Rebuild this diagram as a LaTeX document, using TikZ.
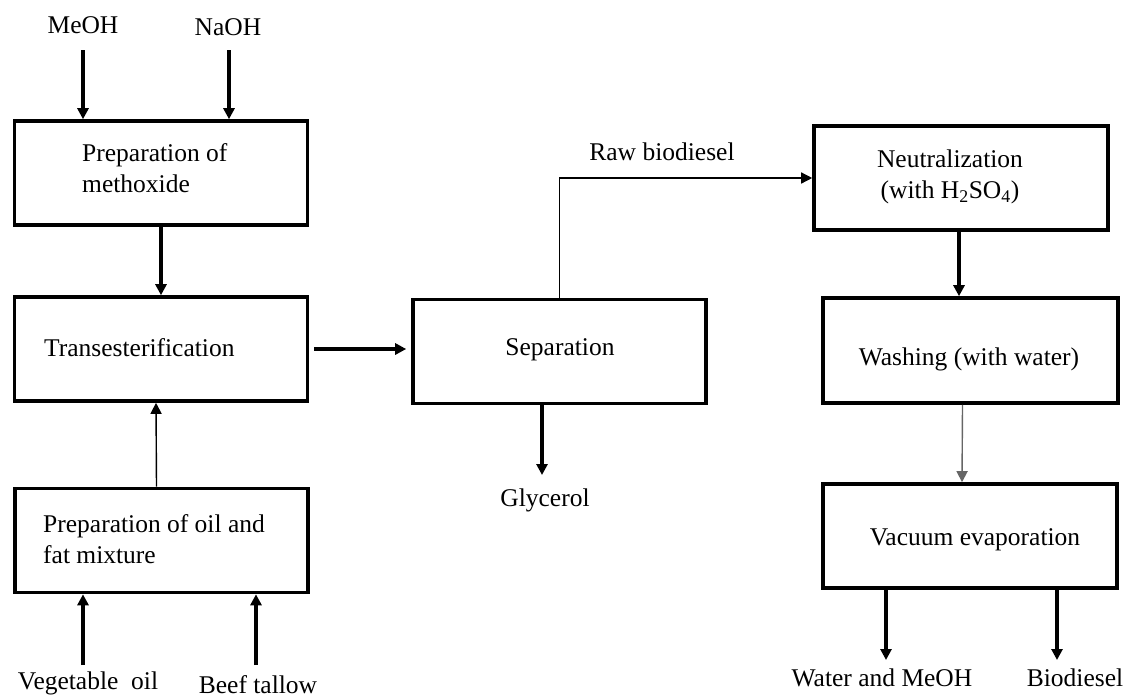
\documentclass[tikz,border=0pt]{standalone}
\usepackage{fontspec}
\setmainfont{Liberation Serif}
\usetikzlibrary{arrows.meta}
\begin{document}
\begin{tikzpicture}[x=1pt,y=-1pt,
  box/.style={draw, line width=3.6pt, inner sep=0pt, minimum width=293pt, minimum height=104pt},
  lbl/.style={font=\fontsize{25.5}{31}\selectfont, inner sep=0pt, align=left},
  clbl/.style={font=\fontsize{25.5}{31}\selectfont, inner sep=0pt, align=center},
  thickarr/.style={line width=3.2pt, -{Triangle[length=11pt,width=11pt]}},
  thinarr/.style={line width=1.4pt, -{Triangle[length=11pt,width=11pt]}},
]
\useasboundingbox (0,0) rectangle (1123,699);
% boxes
\node[box] (b1) at (161,173) {};
\node[box] (b2) at (161,349) {};
\node[box] (b3) at (161.5,540.5) {};
\node[box] (sep) at (559.5,351.5) {};
\node[box, minimum width=294pt] (neut) at (961,178) {};
\node[box, minimum width=295pt, minimum height=105pt] (wash) at (970.5,350.5) {};
\node[box, minimum width=294pt] (vac) at (970,536) {};
% box texts
\node[lbl, anchor=west] (t1) at (82,168) {Preparation of\\methoxide};
\node[lbl, anchor=west] (t2) at (44,348) {Transesterification};
\node[lbl, anchor=west] (t3) at (43,539) {Preparation of oil and\\fat mixture};
\node[clbl] (tsep) at (560,350) {Separation};
\node[clbl] (tneut) at (950,177) {Neutralization\\(with H\textsubscript{2}SO\textsubscript{4})};
\node[clbl] (twash) at (969,359) {Washing (with water)};
\node[clbl] (tvac) at (975,540) {Vacuum evaporation};
% free labels
\node[clbl] (meoh) at (83,25) {MeOH};
\node[clbl] (naoh) at (228,27) {NaOH};
\node[clbl] (veg) at (88,683) {Vegetable\ \ oil};
\node[clbl] (beef) at (258,685) {Beef tallow};
\node[clbl] (raw) at (662,152) {Raw biodiesel};
\node[clbl] (glyc) at (545,500) {Glycerol};
\node[clbl] (wm) at (882,678) {Water and MeOH};
\node[clbl] (bio) at (1075,678) {Biodiesel};
% free ends
\coordinate (cm) at (83,50);
\coordinate (cn) at (229,50);
\coordinate (cv) at (83,665);
\coordinate (cb) at (256,665);
\coordinate (cg) at (542,475);
\coordinate (cw) at (886,660);
\coordinate (cbd) at (1057,660);
% connectors
\draw[thickarr] (cm) -- (cm |- b1.north);
\draw[thickarr] (cn) -- (cn |- b1.north);
\draw[thickarr] (b1.south) -- (b2.north);
\draw[thinarr] ([xshift=-5pt]b3.north) -- ([xshift=-5pt]b2.south);
\draw[thickarr] (cv) -- (cv |- b3.south);
\draw[thickarr] (cb) -- (cb |- b3.south);
\draw[thickarr] ([xshift=5pt]b2.east) -- ([xshift=-5pt]b2.east -| sep.west);
\draw[thinarr] (sep.north) |- (neut.west);
\draw[thickarr] (cg |- sep.south) -- (cg);
\draw[thickarr] ([xshift=-2pt]neut.south) -- ([xshift=-2pt]neut.south |- wash.north);
\draw[thinarr, draw=black!60] ([xshift=-8pt]wash.south) -- ([xshift=-8pt]vac.north);
\draw[thickarr] (cw |- vac.south) -- (cw);
\draw[thickarr] (cbd |- vac.south) -- (cbd);
\end{tikzpicture}
\end{document}
